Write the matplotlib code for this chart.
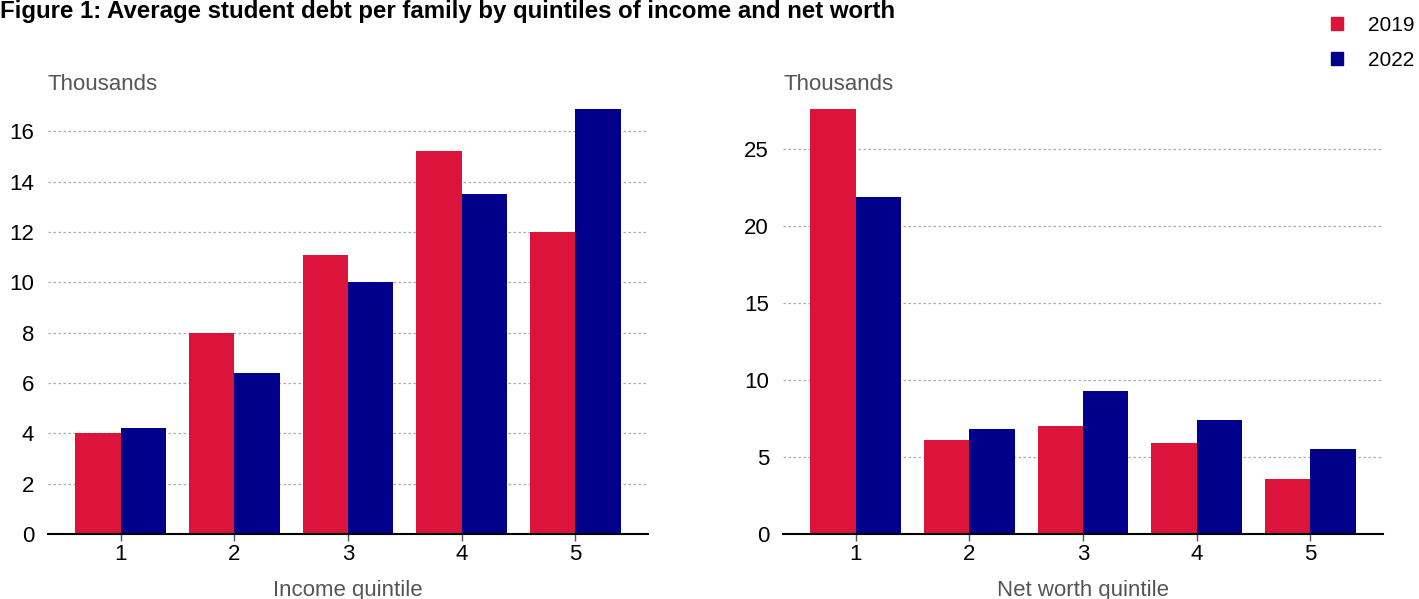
import matplotlib.pyplot as plt
from matplotlib.patches import Patch
import numpy as np

plt.rcParams['font.family'] = ['Liberation Sans', 'DejaVu Sans']

# Average student debt, thousands of dollars
quintiles = ['1', '2', '3', '4', '5']
income_2019 = [4.0, 8.0, 11.1, 15.2, 12.0]
income_2022 = [4.2, 6.4, 10.0, 13.5, 16.9]
networth_2019 = [27.6, 6.1, 7.0, 5.9, 3.6]
networth_2022 = [21.9, 6.8, 9.3, 7.4, 5.5]

red = '#DC143C'
blue = '#00008B'
grey_text = '#555555'

fig = plt.figure(figsize=(14.19, 5.99), dpi=100)
ax1 = fig.add_axes([48 / 1419, 65 / 599, 600 / 1419, 434 / 599])
ax2 = fig.add_axes([783 / 1419, 65 / 599, 600 / 1419, 434 / 599])

panels = [
    (ax1, income_2019, income_2022, 'Income quintile', 17.24, [0, 2, 4, 6, 8, 10, 12, 14, 16]),
    (ax2, networth_2019, networth_2022, 'Net worth quintile', 28.18, [0, 5, 10, 15, 20, 25]),
]

x = np.arange(1, 6)
w = 0.4
for ax, v19, v22, xlabel, ytop, yticks in panels:
    ax.bar(x - w / 2, v19, width=w, color=red, zorder=3)
    ax.bar(x + w / 2, v22, width=w, color=blue, zorder=3)
    ax.set_xlim(0.36, 5.64)
    ax.set_ylim(0, ytop)
    ax.set_xticks(x)
    ax.set_xticklabels(quintiles)
    ax.set_yticks(yticks)
    ax.tick_params(axis='y', length=0, pad=10, labelsize=16)
    ax.tick_params(axis='x', length=5, width=1, color='#555555', pad=2, labelsize=16)
    ax.grid(axis='y', color='#aaaaaa', linestyle=(0, (2, 2)), linewidth=0.9, zorder=0)
    for s in ['top', 'right', 'left']:
        ax.spines[s].set_visible(False)
    ax.spines['bottom'].set_linewidth(1.5)
    ax.spines['bottom'].set_zorder(4)
    ax.set_xlabel(xlabel, fontsize=16, color=grey_text, labelpad=11)
    ax.text(0, 1.011, 'Thousands', transform=ax.transAxes, fontsize=16,
            color=grey_text, ha='left', va='bottom')

fig.text(0.0, 1.0, 'Figure 1: Average student debt per family by quintiles of income and net worth',
         fontsize=17.3, fontweight='bold', ha='left', va='top')

handles = [Patch(color=red, label='2019'), Patch(color=blue, label='2022')]
fig.legend(handles=handles, loc='upper right', bbox_to_anchor=(1.003, 0.987), frameon=False,
           fontsize=15, handlelength=0.6, handleheight=0.6, handletextpad=1.2,
           labelspacing=0.75, borderaxespad=0.0)

fig.savefig('out.png', dpi=100)
